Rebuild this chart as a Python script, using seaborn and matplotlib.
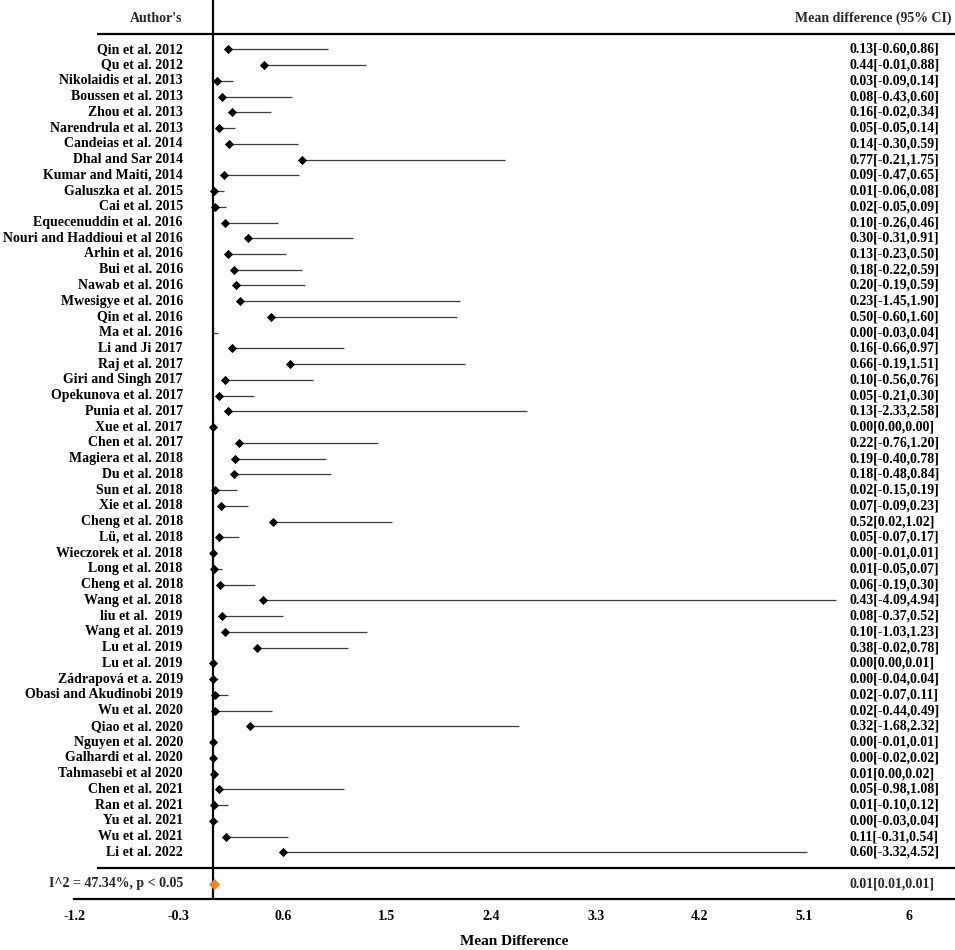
import numpy as np
import pandas as pd
import matplotlib
matplotlib.use("Agg")
import matplotlib.pyplot as plt
import seaborn as sns

# ---------------- data ----------------
authors = [
    "Qin et al. 2012", "Qu et al. 2012", "Nikolaidis et al. 2013", "Boussen et al. 2013",
    "Zhou et al. 2013", "Narendrula et al. 2013", "Candeias et al. 2014", "Dhal and Sar 2014",
    "Kumar and Maiti, 2014", "Galuszka et al. 2015", "Cai et al. 2015", "Equecenuddin et al. 2016",
    "Nouri and Haddioui et al 2016", "Arhin et al. 2016", "Bui et al. 2016", "Nawab et al. 2016",
    "Mwesigye et al. 2016", "Qin et al. 2016", "Ma et al. 2016", "Li and Ji 2017",
    "Raj et al. 2017", "Giri and Singh 2017", "Opekunova et al. 2017", "Punia et al. 2017",
    "Xue et al. 2017", "Chen et al. 2017", "Magiera et al. 2018", "Du et al. 2018",
    "Sun et al. 2018", "Xie et al. 2018", "Cheng et al. 2018", "Lü, et al. 2018",
    "Wieczorek et al. 2018", "Long et al. 2018", "Cheng et al. 2018", "Wang et al. 2018",
    "liu et al.  2019", "Wang et al. 2019", "Lu et al. 2019", "Lu et al. 2019",
    "Zádrapová et a. 2019", "Obasi and Akudinobi 2019", "Wu et al. 2020", "Qiao et al. 2020",
    "Nguyen et al. 2020", "Galhardi et al. 2020", "Tahmasebi et al 2020", "Chen et al. 2021",
    "Ran et al. 2021", "Yu et al. 2021", "Wu et al. 2021", "Li et al. 2022",
]
means = [
    0.13, 0.44, 0.03, 0.08, 0.16, 0.05, 0.14, 0.77, 0.09, 0.01, 0.02, 0.10, 0.30,
    0.13, 0.18, 0.20, 0.23, 0.50, 0.00, 0.16, 0.66, 0.10, 0.05, 0.13, 0.00, 0.22,
    0.19, 0.18, 0.02, 0.07, 0.52, 0.05, 0.00, 0.01, 0.06, 0.43, 0.08, 0.10, 0.38,
    0.00, 0.00, 0.02, 0.02, 0.32, 0.00, 0.00, 0.01, 0.05, 0.01, 0.00, 0.11, 0.60,
]
lowers = [
    -0.60, -0.01, -0.09, -0.43, -0.02, -0.05, -0.30, -0.21, -0.47, -0.06, -0.05, -0.26, -0.31,
    -0.23, -0.22, -0.19, -1.45, -0.60, -0.03, -0.66, -0.19, -0.56, -0.21, -2.33, 0.00, -0.76,
    -0.40, -0.48, -0.15, -0.09, 0.02, -0.07, -0.01, -0.05, -0.19, -4.09, -0.37, -1.03, -0.02,
    0.00, -0.04, -0.07, -0.44, -1.68, -0.01, -0.02, 0.00, -0.98, -0.10, -0.03, -0.31, -3.32,
]
uppers = [
    0.86, 0.88, 0.14, 0.60, 0.34, 0.14, 0.59, 1.75, 0.65, 0.08, 0.09, 0.46, 0.91,
    0.50, 0.59, 0.59, 1.90, 1.60, 0.04, 0.97, 1.51, 0.76, 0.30, 2.58, 0.00, 1.20,
    0.78, 0.84, 0.19, 0.23, 1.02, 0.17, 0.01, 0.07, 0.30, 4.94, 0.52, 1.23, 0.78,
    0.01, 0.04, 0.11, 0.49, 2.32, 0.01, 0.02, 0.02, 1.08, 0.12, 0.04, 0.54, 4.52,
]
no_marker = ["Ma et al. 2016"]

pooled_mean = 0.01
pooled_lower = 0.01
pooled_upper = 0.01
heterogeneity = "I^2 = 47.34%, p < 0.05"

xticks = [-1.2, -0.3, 0.6, 1.5, 2.4, 3.3, 4.2, 5.1, 6]
xtick_labels = ["-1.2", "-0.3", "0.6", "1.5", "2.4", "3.3", "4.2", "5.1", "6"]

# ---------------- style ----------------
sns.set_theme(style="white")
plt.rcParams["font.family"] = ["Liberation Serif", "DejaVu Serif"]
plt.rcParams["font.weight"] = "bold"

n = len(authors)
df = pd.DataFrame({"author": authors, "mean": means, "lower": lowers,
                   "upper": uppers, "row": np.arange(n)})
df["label"] = [f"{m:.2f}[{l:.2f},{u:.2f}]" for m, l, u in zip(means, lowers, uppers)]

W, H = 955, 950
fig = plt.figure(figsize=(W / 100, H / 100), dpi=100)
ax = fig.add_axes([74 / W, (H - 899.3) / H, 1 - 74 / W, 899.3 / H])

# CI lines (drawn from the estimate rightwards, as in the original figure)
ax.errorbar(df["mean"], df["row"], xerr=[np.zeros(n), df["upper"]], fmt="none",
            ecolor="#3a3a3a", elinewidth=0.9, capsize=0, zorder=2)

shown = df[~df["author"].isin(no_marker)]
sns.scatterplot(data=shown, x="mean", y="row", marker="D", s=22, color="black",
                linewidth=0, ax=ax, zorder=3, legend=False)
sns.scatterplot(x=[pooled_mean], y=[n + 1], marker="D", s=32, color="#F7801F",
                linewidth=0, ax=ax, zorder=3, legend=False)

ax.set_xlim(-1.2, 6.4)
ax.set_ylim(n + 1.98, -3.13)

# structure lines
ax.axvline(0, color="black", lw=1.6, zorder=1)
ax.hlines([-1, n], -1.0, 6.4, color="black", lw=1.6, clip_on=False)

for s in ["top", "right", "left"]:
    ax.spines[s].set_visible(False)
ax.spines["bottom"].set_color("black")
ax.spines["bottom"].set_linewidth(1.6)

fs = 10
name_x = -0.261
ci_x = 5.49
for _, r in df.iterrows():
    ax.text(name_x, r["row"], r["author"], ha="right", va="center", fontsize=fs,
            fontweight="bold", color="black")
    ax.text(ci_x, r["row"], r["label"], ha="left", va="center", fontsize=fs,
            fontweight="bold", color="black")

ax.text(name_x, -1.97, "Author's", ha="right", va="center", fontsize=fs, fontweight="bold")
ax.text(6.37, -1.97, "Mean difference (95% CI)", ha="right", va="center", fontsize=fs,
        fontweight="bold")
ax.text(name_x, n + 1, heterogeneity, ha="right", va="center", fontsize=fs, fontweight="bold")
ax.text(ci_x, n + 1, f"{pooled_mean:.2f}[{pooled_lower:.2f},{pooled_upper:.2f}]",
        ha="left", va="center", fontsize=fs, fontweight="bold")

ax.set_xticks(xticks)
ax.set_xticklabels(xtick_labels, fontsize=fs, fontweight="bold", color="black")
ax.tick_params(axis="x", length=0, pad=8)
ax.set_yticks([])
ax.set_ylabel("")
ax.set_xlabel("Mean Difference", fontsize=11, fontweight="bold", color="black", labelpad=8)

fig.savefig("out.png", dpi=100, facecolor="white")
